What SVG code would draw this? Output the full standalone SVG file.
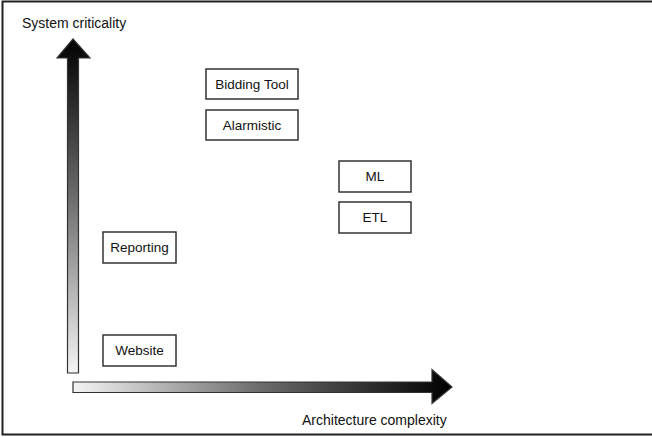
<svg xmlns="http://www.w3.org/2000/svg" width="652" height="437" viewBox="0 0 652 437">
  <style>
    .box { fill: #ffffff; stroke: #333333; stroke-width: 1.5; }
    .lbl { font-family: "Liberation Sans", Arial, sans-serif; font-size: 13.5px; fill: #111111; text-anchor: middle; }
    .axis { font-family: "Liberation Sans", Arial, sans-serif; font-size: 14px; fill: #111111; }
    .arrow { stroke: #333333; stroke-width: 1.2; stroke-linejoin: miter; }
  </style>
  <defs>
    <linearGradient id="gV" x1="0" y1="1" x2="0" y2="0">
      <stop offset="0" stop-color="#f4f4f4"/>
      <stop offset="0.55" stop-color="#666666"/>
      <stop offset="1" stop-color="#000000"/>
    </linearGradient>
    <linearGradient id="gH" x1="0" y1="0" x2="1" y2="0">
      <stop offset="0" stop-color="#f4f4f4"/>
      <stop offset="0.5" stop-color="#6a6a6a"/>
      <stop offset="1" stop-color="#000000"/>
    </linearGradient>
  </defs>
  <rect x="0" y="0" width="652" height="437" fill="#ffffff"/>
  <path d="M652 1.5 H2.5 V434.5 H652" fill="none" stroke="#222222" stroke-width="2"/>

  <g id="connectors">
    <path id="y-axis" class="arrow" fill="url(#gV)" d="M67.5 373 V58 H57 L73 39 L90 58 H78.5 V373 Z"/>
    <path id="x-axis" class="arrow" fill="url(#gH)" d="M73 382 H432 V369.5 L452 387 L432 403.5 V392.5 H73 Z"/>
  </g>

  <text class="axis" x="22" y="28">System criticality</text>
  <text class="axis" x="302" y="425">Architecture complexity</text>

  <g id="bidding-tool">
    <rect class="box" x="206" y="69" width="92" height="30"/>
    <text class="lbl" x="252" y="89">Bidding Tool</text>
  </g>
  <g id="alarmistic">
    <rect class="box" x="206" y="110" width="92" height="30"/>
    <text class="lbl" x="252" y="130">Alarmistic</text>
  </g>
  <g id="ml">
    <rect class="box" x="339" y="161" width="72" height="31"/>
    <text class="lbl" x="375" y="181">ML</text>
  </g>
  <g id="etl">
    <rect class="box" x="339" y="202" width="72" height="31"/>
    <text class="lbl" x="375" y="222">ETL</text>
  </g>
  <g id="reporting">
    <rect class="box" x="103" y="232" width="73" height="31"/>
    <text class="lbl" x="139.5" y="252">Reporting</text>
  </g>
  <g id="website">
    <rect class="box" x="103" y="335" width="73" height="31"/>
    <text class="lbl" x="139.5" y="355">Website</text>
  </g>
</svg>
